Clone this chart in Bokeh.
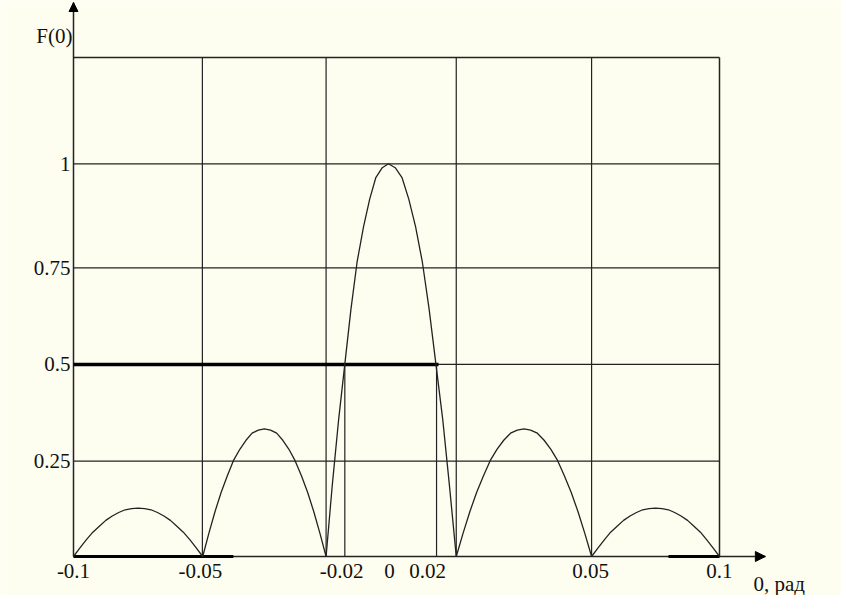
from bokeh.plotting import figure
from bokeh.models import Range1d, Arrow, NormalHead
from bokeh.core.properties import value
from bokeh.embed import file_html
from bokeh.resources import INLINE

# ---- curve F(theta) (five lobes) ----
theta = [
    -0.1000, -0.0980, -0.0960, -0.0940, -0.0920, -0.0900, -0.0880, -0.0860, -0.0840, -0.0820, -0.0800,
    -0.0780, -0.0760, -0.0740, -0.0720, -0.0700, -0.0680, -0.0660, -0.0640, -0.0620,
    -0.0600, -0.0581, -0.0562, -0.0543, -0.0524, -0.0505, -0.0485, -0.0466, -0.0447, -0.0428, -0.0409,
    -0.0390, -0.0371, -0.0352, -0.0333, -0.0314, -0.0294, -0.0275, -0.0256, -0.0237,
    -0.0218, -0.0199, -0.0179, -0.0160, -0.0141, -0.0122, -0.0102, -0.0083, -0.0064, -0.0044, -0.0025,
    -0.0004, 0.0017, 0.0038, 0.0059, 0.0080, 0.0101, 0.0122, 0.0143, 0.0164,
    0.0185, 0.0206, 0.0227, 0.0248, 0.0269, 0.0290, 0.0311, 0.0332, 0.0353, 0.0374, 0.0395,
    0.0415, 0.0436, 0.0457, 0.0478, 0.0499, 0.0520, 0.0541, 0.0562, 0.0583,
    0.0604, 0.0624, 0.0644, 0.0663, 0.0683, 0.0703, 0.0723, 0.0743, 0.0762, 0.0782, 0.0802,
    0.0822, 0.0842, 0.0861, 0.0881, 0.0901, 0.0921, 0.0941, 0.0960, 0.0980, 0.1000,
]
F = [
    0.0, 0.022, 0.043, 0.062, 0.077, 0.092, 0.103, 0.112, 0.119, 0.122, 0.123,
    0.122, 0.119, 0.112, 0.103, 0.092, 0.077, 0.062, 0.043, 0.022,
    0.0, 0.059, 0.114, 0.163, 0.205, 0.244, 0.273, 0.296, 0.314, 0.322, 0.325,
    0.322, 0.314, 0.296, 0.273, 0.244, 0.205, 0.163, 0.114, 0.059,
    0.0, 0.18, 0.35, 0.49, 0.63, 0.75, 0.84, 0.91, 0.965, 0.99, 1.0,
    0.99, 0.965, 0.91, 0.84, 0.75, 0.63, 0.49, 0.35, 0.18,
    0.0, 0.059, 0.114, 0.163, 0.205, 0.244, 0.273, 0.296, 0.314, 0.322, 0.325,
    0.322, 0.314, 0.296, 0.273, 0.244, 0.205, 0.163, 0.114, 0.059,
    0.0, 0.022, 0.043, 0.062, 0.077, 0.092, 0.103, 0.112, 0.119, 0.122, 0.123,
    0.122, 0.119, 0.112, 0.103, 0.092, 0.077, 0.062, 0.043, 0.022, 0.0,
]

# ---- grid, levels and ticks ----
x_grid = [-0.0601, -0.0218, 0.0185, 0.0604]
y_grid = [0.2427, 0.489, 0.735, 1.0]
x_left, x_right = -0.1, 0.1
y_top = 1.2707

half_level = 0.489
half_x = [-0.0160, 0.0124]          # half-power points (droplines)
half_end = 0.0130
bold_start = [-0.1, 0.0842]         # bold stretches on the theta axis
bold_end = [-0.0505, 0.1]

x_tick_pos = [-0.1, -0.0607, -0.0170, -0.0022, 0.0096, 0.0601, 0.1]
x_tick_text = ["-0.1", "-0.05", "-0.02", "0", "0.02", "0.05", "0.1"]
y_tick_pos = [0.2427, 0.489, 0.735, 1.0]
y_tick_text = ["0.25", "0.5", "0.75", "1"]

x_axis_end = 0.1142
y_axis_end = 1.4107

y_name, y_name_pos = "F(0)", 1.3242
x_name, x_name_x, x_name_y = "0, рад", 0.1105, -0.0700

BG = "#FEFEF0"
INK = "#222222"
TXT = "#111111"
FONT = value("Liberation Serif")
FS = "21px"

p = figure(width=841, height=595, output_backend="svg", toolbar_location=None,
           x_range=Range1d(-0.122601, 0.137771), y_range=Range1d(-0.099312, 1.415839),
           min_border=0)
p.background_fill_color = BG
p.border_fill_color = BG
p.outline_line_color = None
p.axis.visible = False
p.grid.visible = False

# grid lines
n = len(x_grid)
p.segment(x0=x_grid, y0=[0] * n, x1=x_grid, y1=[y_top] * n, line_color=INK, line_width=1.2)
m = len(y_grid)
p.segment(x0=[x_left] * m, y0=y_grid, x1=[x_right] * m, y1=y_grid, line_color=INK, line_width=1.2)
# frame top and right
p.segment(x0=[x_left, x_right], y0=[y_top, 0], x1=[x_right, x_right], y1=[y_top, y_top],
          line_color=INK, line_width=1.5)
# axes lines
p.segment(x0=[x_left, x_left], y0=[0, 0], x1=[x_axis_end, x_left], y1=[0, y_axis_end],
          line_color=INK, line_width=1.5)
# half-power droplines and bold level
p.segment(x0=half_x, y0=[0, 0], x1=half_x, y1=[half_level, half_level], line_color=INK, line_width=1.2)
p.segment(x0=[x_left], y0=[half_level], x1=[half_end], y1=[half_level], line_color="#000000", line_width=3.5)
# bold axis stretches
p.segment(x0=bold_start, y0=[0, 0], x1=bold_end, y1=[0, 0], line_color="#000000", line_width=3)

# curve
p.line(theta, F, line_color=INK, line_width=1.3)

# arrow heads
p.add_layout(Arrow(end=NormalHead(size=10, fill_color="#000000", line_color="#000000"),
                   x_start=x_axis_end - 0.003, y_start=0, x_end=x_axis_end, y_end=0,
                   line_color="#000000", line_width=1.5))
p.add_layout(Arrow(end=NormalHead(size=9, fill_color="#000000", line_color="#000000"),
                   x_start=x_left, y_start=y_axis_end - 0.02, x_end=x_left, y_end=y_axis_end,
                   line_color="#000000", line_width=1.5))

# tick labels
p.text(x=x_tick_pos, y=[0] * len(x_tick_pos), text=x_tick_text, y_offset=14,
       text_align="center", text_baseline="middle", text_font=FONT,
       text_font_size=FS, text_color=TXT)
p.text(x=[x_left] * len(y_tick_pos), y=y_tick_pos, text=y_tick_text, x_offset=-3,
       text_align="right", text_baseline="middle", text_font=FONT,
       text_font_size=FS, text_color=TXT)

# axis names
p.text(x=[x_left], y=[y_name_pos], text=[y_name], x_offset=-1, text_align="right",
       text_baseline="middle", text_font=FONT, text_font_size=FS, text_color=TXT)
p.text(x=[x_name_x], y=[x_name_y], text=[x_name], text_align="left",
       text_baseline="middle", text_font=FONT, text_font_size=FS, text_color=TXT)

open("out.html", "w").write(file_html(p, INLINE))
